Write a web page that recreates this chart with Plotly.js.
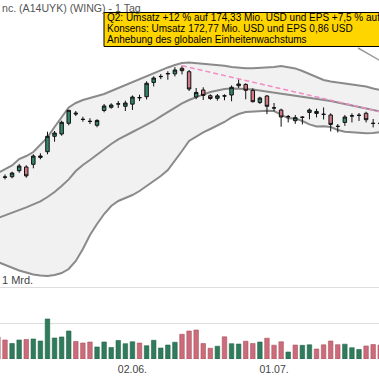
<!DOCTYPE html>
<html><head><meta charset="utf-8">
<script src="https://cdn.plot.ly/plotly-3.0.1.min.js"></script>
<style>html,body{margin:0;padding:0;background:#fff;}#chart{width:379px;height:379px;}</style>
</head><body><div id="chart"></div>
<script>
const dates = ['2025-05-05','2025-05-06','2025-05-07','2025-05-08','2025-05-09','2025-05-12','2025-05-13','2025-05-14','2025-05-15','2025-05-16','2025-05-19','2025-05-20','2025-05-21','2025-05-22','2025-05-23','2025-05-27','2025-05-28','2025-05-29','2025-05-30','2025-06-02','2025-06-03','2025-06-04','2025-06-05','2025-06-06','2025-06-09','2025-06-10','2025-06-11','2025-06-12','2025-06-13','2025-06-16','2025-06-17','2025-06-18','2025-06-20','2025-06-23','2025-06-24','2025-06-25','2025-06-26','2025-06-27','2025-06-30','2025-07-01','2025-07-02','2025-07-03','2025-07-07','2025-07-08','2025-07-09','2025-07-10','2025-07-11','2025-07-14','2025-07-15','2025-07-16','2025-07-17','2025-07-18','2025-07-21','2025-07-22','2025-07-23'];

const openP  = [319.5,317.9,318.3,322.5,325.1,327.0,331.8,335.8,346.6,348.2,355.7,362.9,358.5,357.1,354.3,364.7,366.9,369.2,367.6,369.1,373.5,374.3,384.3,388.3,390.3,390.3,394.2,391.8,374.1,379.0,375.0,373.2,374.9,375.5,382.0,382.9,378.8,370.3,374.8,366.4,365.0,360.5,357.5,360.0,363.3,362.6,361.9,361.5,353.6,356.3,360.8,361.2,362.7,355.7,355.9];
const highP  = [320.9,319.9,321.8,327.2,326.3,334.0,334.7,349.8,350.3,357.5,365.0,364.3,360.3,359.2,358.5,369.2,369.7,371.3,371.5,375.2,375.7,385.1,388.6,390.1,392.1,395.0,396.0,393.0,380.4,380.9,376.0,376.2,376.0,382.2,386.5,383.7,380.2,374.3,375.5,369.9,365.9,361.5,361.5,360.5,366.1,365.9,366.8,362.7,355.2,361.5,362.7,362.9,363.8,358.7,358.0];
const lowP   = [317.4,316.4,317.2,321.1,317.6,324.2,330.5,334.0,342.8,347.0,354.3,360.8,356.8,355.2,352.9,363.4,365.9,366.4,364.3,365.0,371.3,372.4,381.5,386.6,386.2,388.5,389.9,378.3,372.6,372.0,372.1,371.5,371.8,371.1,380.4,372.5,370.3,369.2,362.1,364.1,353.3,356.3,355.3,354.9,358.5,359.8,358.4,350.0,349.3,353.9,356.3,357.3,356.3,352.8,353.8];
const closeP = [319.3,318.1,320.9,325.8,318.9,332.8,332.8,346.6,348.9,356.4,364.8,362.3,358.4,357.0,357.7,367.8,368.5,369.3,369.9,374.1,373.7,383.7,387.4,388.5,390.5,393.0,392.5,379.7,377.3,375.2,373.1,374.9,374.8,380.9,383.2,378.8,370.8,373.4,367.6,366.5,360.1,360.3,359.6,359.9,365.0,364.0,362.0,354.9,353.5,360.1,360.9,361.3,358.2,355.6,355.5];

const bbUpper  = [320.9,323.7,326.2,330.7,332.8,335.6,340.5,345.8,353.1,360.1,366.8,369.9,372.0,373.4,374.6,376.2,378.3,380.4,382.2,384.3,386.4,388.5,390.6,393.0,394.8,396.5,397.9,398.3,397.9,397.3,396.9,396.5,396.0,395.1,394.4,394.2,394.2,394.4,394.8,395.1,395.8,395.1,394.1,392.3,390.2,387.8,386.0,385.0,384.3,383.6,382.9,382.5,381.5,380.1,379.0];
const bbMiddle = [289.4,291.2,292.9,295.0,296.8,298.9,301.0,304.1,307.6,311.8,316.4,322.3,326.5,330.0,333.9,337.7,341.2,344.4,347.2,349.6,352.1,354.5,357.3,360.5,363.6,366.8,369.6,372.0,374.1,375.9,377.6,378.7,379.7,380.1,380.1,379.7,379.4,378.7,378.0,377.3,376.6,375.9,375.2,374.5,373.8,373.1,372.4,371.3,370.3,369.2,368.2,367.1,366.1,365.0,364.0];
const bbLower  = [258.6,256.5,254.4,252.7,251.3,249.9,249.2,248.8,249.5,250.9,253.7,259.3,267.7,277.5,285.2,292.2,297.8,301.3,303.4,305.5,308.3,311.8,315.3,318.8,323.0,329.3,336.3,343.3,346.5,349.3,351.7,354.2,356.6,359.8,362.2,363.6,364.0,364.3,364.4,364.3,361.5,359.2,359.1,357.3,354.9,353.5,353.6,353.1,351.0,349.8,349.4,348.9,348.7,348.9,349.6];

// turnover in million USD
const volumeMio = [306,264,215,264,271,278,250,556,292,306,389,243,222,236,167,236,160,257,213,240,222,185,260,153,194,233,343,389,403,215,149,178,308,213,208,247,215,236,289,192,239,97,194,190,197,139,197,250,199,206,157,132,181,201,194];
const volumeUp  = [0,0,1,1,0,1,1,1,1,1,1,0,0,0,1,1,1,1,1,1,0,1,1,1,1,1,0,0,0,0,0,1,0,1,1,0,0,1,0,0,0,1,0,1,1,0,0,0,0,1,1,1,0,0,0];

const tickDates  = ['2025-06-02','2025-07-01'];
const tickLabels = ['02.06.','01.07.'];

const trendDates  = ['2025-06-11','2025-07-23'];
const trendPrices = [396.0,363.8];

const titleText = 'nc. (A14UYK) (WING) - 1 Tag';
const noteLines = ['Q2: Umsatz +12 % auf 174,33 Mio. USD und EPS +7,5 % auf',
                   'Konsens: Umsatz 172,77 Mio. USD und EPS 0,86 USD',
                   'Anhebung des globalen Einheitenwachstums'];
const volLabel = '1 Mrd.';
const volLabelValue = 1e9;

const FONT = 'Liberation Sans, Arial, sans-serif';
const GREEN = '#35866a', RED = '#d07886';
const VGREEN = '#2f7b5b', VRED = '#cc6b7a';
const PRANGE = [190.7, 442];

const traces = [
  {type:'scatter', mode:'lines', x:dates, y:bbUpper, line:{color:'#8a8a8a', width:2}, hoverinfo:'skip'},
  {type:'scatter', mode:'lines', x:dates, y:bbLower, line:{color:'#8a8a8a', width:2}, fill:'tonexty', fillcolor:'#f1f1f1', hoverinfo:'skip'},
  {type:'scatter', mode:'lines', x:dates, y:bbMiddle, line:{color:'#8a8a8a', width:2}, hoverinfo:'skip'},
  {type:'candlestick', x:dates, open:openP, high:highP, low:lowP, close:closeP, yaxis:'y3',
   increasing:{line:{color:'#111', width:1}, fillcolor:GREEN},
   decreasing:{line:{color:'#111', width:1}, fillcolor:RED},
   whiskerwidth:0},
  {type:'bar', x:dates, y:volumeMio.map(v=>v*1e6), yaxis:'y2', width:0.64,
   marker:{color:volumeUp.map(u=>u?VGREEN:VRED), line:{color:volumeUp.map(u=>u?'#25654a':'#a85462'), width:0.6}}}
];

const PLOTH = 359;
const py = p => 1 - p/PLOTH;

const layout = {
  width:379, height:379,
  margin:{l:0, r:0, t:0, b:20, pad:0},
  paper_bgcolor:'#fff', plot_bgcolor:'#fff',
  showlegend:false,
  xaxis:{type:'category', range:[0.294, 53.824], tickvals:tickDates, ticktext:tickLabels,
         showgrid:false, zeroline:false, showline:false, ticks:'', ticklabelstandoff:2,
         tickfont:{family:FONT, size:10.5, color:'#444'}, rangeslider:{visible:false}, fixedrange:true},
  yaxis:{domain:[0,1], range:PRANGE, showgrid:false, zeroline:false, showticklabels:false, ticks:''},
  yaxis3:{overlaying:'y', range:PRANGE, showgrid:false, zeroline:false, showticklabels:false, ticks:''},
  yaxis2:{domain:[0,0.2206], range:[0,1.1e9], tickvals:[5e8,1e9], showticklabels:false,
          showgrid:true, gridcolor:'#dddddd', gridwidth:1, zeroline:false, ticks:''},
  shapes:[
    {type:'line', xref:'x', yref:'y', x0:dates.indexOf(trendDates[0]), y0:trendPrices[0],
     x1:dates.indexOf(trendDates[1]), y1:trendPrices[1], line:{color:'#f28cc4', width:1.5, dash:'5px,3px'}},
    {type:'line', xref:'paper', yref:'paper', x0:358/379, y0:py(48), x1:400/379, y1:py(72), line:{color:'#9a9a9a', width:1.5}},
    {type:'rect', xref:'paper', yref:'paper', x0:104/379, y0:py(46.5), x1:1.1, y1:py(12.5), fillcolor:'#ffd500', line:{color:'#000', width:1}}
  ],
  annotations:[
    {xref:'paper', yref:'paper', x:0, y:py(7.8), xanchor:'left', yanchor:'middle', showarrow:false,
     text:titleText, font:{family:FONT, size:10.6, color:'#555'}},
    {xref:'paper', yref:'paper', x:105/379, y:py(17.5), xanchor:'left', yanchor:'middle', showarrow:false,
     text:noteLines[0], font:{family:FONT, size:10, color:'#000'}},
    {xref:'paper', yref:'paper', x:105/379, y:py(28.7), xanchor:'left', yanchor:'middle', showarrow:false,
     text:noteLines[1], font:{family:FONT, size:10, color:'#000'}},
    {xref:'paper', yref:'paper', x:105/379, y:py(39.9), xanchor:'left', yanchor:'middle', showarrow:false,
     text:noteLines[2], font:{family:FONT, size:10, color:'#000'}},
    {xref:'paper', yref:'y2', x:0, y:volLabelValue, xanchor:'left', yanchor:'bottom', yshift:-1, showarrow:false,
     text:volLabel, font:{family:FONT, size:11, color:'#444'}}
  ]
};

Plotly.newPlot('chart', traces, layout, {staticPlot:true, displayModeBar:false});
</script>
</body></html>
